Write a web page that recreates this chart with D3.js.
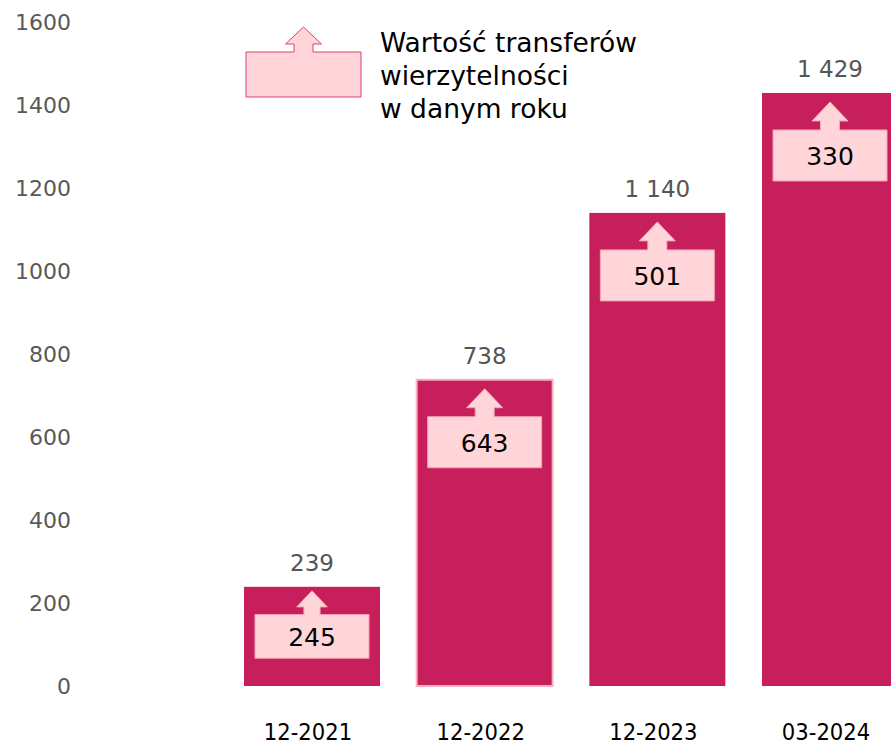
<!DOCTYPE html>
<html>
  <head>
    <meta charset="utf-8">
    <title>Wartość transferów wierzytelności</title>
    <script src="https://d3js.org/d3.v7.min.js"></script>
    <style>
      body { margin: 0; background: #fff; }
      svg { display: block; }
    </style>
  </head>
  <body>
    <svg width="891" height="746"></svg>

    <script>
      // dane
      var categories = ["12-2021", "12-2022", "12-2023", "03-2024"];
      var totals = [239, 738, 1140, 1429];          // stan na koniec okresu
      var transfers = [245, 643, 501, 330];         // wartość transferów w danym roku
      var yTicks = [0, 200, 400, 600, 800, 1000, 1200, 1400, 1600];
      var legendLines = ["Wartość transferów", "wierzytelności", "w danym roku"];

      var barColor = "#C61F5B";
      var boxFill = "#FFD5D9";
      var boxStroke = "#F3A5B4";

      var svg = d3.select("svg");

      var x = d3.scaleBand().domain(categories).range([244, 898]).paddingInner(0.2125).paddingOuter(0);
      var y = d3.scaleLinear().domain([0, 1600]).range([686, 22]);

      // os Y - tylko etykiety
      var yAxis = d3.axisLeft(y).tickValues(yTicks).tickSize(0).tickPadding(0).tickFormat(d3.format("d"));
      var gy = svg.append("g").attr("transform", "translate(71,0)").call(yAxis);
      gy.select(".domain").remove();
      gy.selectAll("text")
        .attr("font-family", "DejaVu Sans")
        .attr("font-size", 22)
        .attr("fill", "#595959")
        .attr("dy", "0.36em");

      // os X - etykiety
      var xAxis = d3.axisBottom(x).tickSize(0).tickPadding(0);
      var gx = svg.append("g").attr("transform", "translate(-4,740)").call(xAxis);
      gx.select(".domain").remove();
      gx.selectAll("text")
        .attr("font-family", "DejaVu Sans Condensed")
        .attr("font-size", 23.5)
        .attr("fill", "#000")
        .attr("y", 0)
        .attr("dy", 0);

      // slupki
      svg.append("g").selectAll("rect")
        .data(totals)
        .join("rect")
        .attr("x", function(d, i) { return x(categories[i]); })
        .attr("y", function(d) { return y(d); })
        .attr("width", x.bandwidth())
        .attr("height", function(d) { return y(0) - y(d); })
        .attr("fill", barColor)
        .attr("stroke", function(d, i) { return i === 1 ? "#F7B3BE" : "none"; })
        .attr("stroke-width", 2);

      // etykiety nad slupkami
      var fmt = function(v) { return d3.format(",")(v).replace(/,/g, " "); };
      svg.append("g").selectAll("text")
        .data(totals)
        .join("text")
        .attr("x", function(d, i) { return x(categories[i]) + x.bandwidth() / 2; })
        .attr("y", function(d) { return y(d) - 16; })
        .attr("text-anchor", "middle")
        .attr("font-family", "DejaVu Sans")
        .attr("font-size", 23)
        .attr("fill", "#555")
        .text(fmt);

      // ksztalt: prostokat ze strzalka w gore
      function arrowBox(cx, left, right, top, bottom, tip, headBase, headW, shaftW) {
        var p = d3.path();
        p.moveTo(left, top);
        p.lineTo(cx - shaftW / 2, top);
        p.lineTo(cx - shaftW / 2, headBase);
        p.lineTo(cx - headW / 2, headBase);
        p.lineTo(cx, tip);
        p.lineTo(cx + headW / 2, headBase);
        p.lineTo(cx + shaftW / 2, headBase);
        p.lineTo(cx + shaftW / 2, top);
        p.lineTo(right, top);
        p.lineTo(right, bottom);
        p.lineTo(left, bottom);
        p.closePath();
        return p.toString();
      }

      // pola z wartoscia transferow w slupkach
      var inner = svg.append("g");
      transfers.forEach(function(v, i) {
        var bx = x(categories[i]);
        var bw = x.bandwidth();
        var top = y(totals[i]);
        var h = y(0) - top;
        var boxTop = top + Math.min(37, h * 0.28);
        var boxH = Math.min(51, h * 0.44);
        var arrH = Math.min(28, h * 0.24);
        var k = arrH / 28;
        var cx = bx + bw / 2;
        inner.append("path")
          .attr("d", arrowBox(cx, bx + 11, bx + bw - 11, boxTop, boxTop + boxH,
            boxTop - arrH, boxTop - arrH + 19 * k, 36 * k, 19 * k))
          .attr("fill", boxFill)
          .attr("stroke", boxStroke)
          .attr("stroke-width", 1);
        inner.append("text")
          .attr("x", cx)
          .attr("y", boxTop + boxH / 2)
          .attr("dy", "0.38em")
          .attr("text-anchor", "middle")
          .attr("font-family", "DejaVu Sans")
          .attr("font-size", 25)
          .attr("fill", "#000")
          .text(v);
      });

      // legenda
      var lg = svg.append("g");
      lg.append("path")
        .attr("d", arrowBox(303.5, 246, 361, 52, 97, 27, 44, 36, 19))
        .attr("fill", boxFill)
        .attr("stroke", "#DC3F73")
        .attr("stroke-width", 1);
      lg.selectAll("text")
        .data(legendLines)
        .join("text")
        .attr("x", 380)
        .attr("y", function(d, i) { return 52 + i * 33; })
        .attr("font-family", "DejaVu Sans")
        .attr("font-size", 26.5)
        .attr("fill", "#000")
        .text(function(d) { return d; });
    </script>
  </body>
</html>
